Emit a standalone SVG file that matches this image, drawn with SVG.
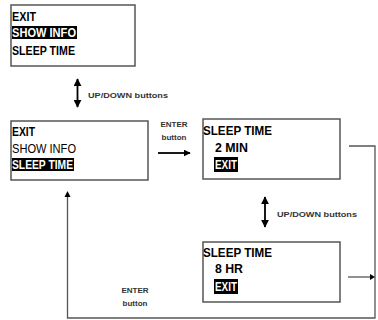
<svg xmlns="http://www.w3.org/2000/svg" width="378" height="320" viewBox="0 0 378 320">
  <style>
    .box { fill: #ffffff; stroke: #555555; stroke-width: 1.5; }
    .hl { fill: #000000; }
    .menu { font-family: "Liberation Sans", Arial, sans-serif; font-size: 12px; fill: #000000; }
    .b { font-weight: bold; }
    .inv { fill: #ffffff; font-weight: bold; }
    .lbl { font-family: "Liberation Sans", Arial, sans-serif; font-size: 8px; font-weight: bold; fill: #333333; }
    .wire { fill: none; stroke: #555555; stroke-width: 1.3; }
    .dbl { fill: none; stroke: #000000; stroke-width: 1.8; }
  </style>
  <defs>
    <marker id="head" viewBox="0 0 10 10" refX="9" refY="5" markerWidth="7" markerHeight="7" markerUnits="userSpaceOnUse" orient="auto-start-reverse">
      <path d="M0,0 L10,5 L0,10 z" fill="#000000"/>
    </marker>
    <marker id="headBig" viewBox="0 0 10 10" refX="9" refY="5" markerWidth="8" markerHeight="8" markerUnits="userSpaceOnUse" orient="auto-start-reverse">
      <path d="M0,0 L10,5 L0,10 z" fill="#000000"/>
    </marker>
  </defs>

  <!-- main menu, SHOW INFO selected -->
  <g id="menu-show-info">
    <rect class="box" x="11" y="5" width="124" height="61"/>
    <text class="menu b" x="12" y="21" textLength="24" lengthAdjust="spacingAndGlyphs">EXIT</text>
    <rect class="hl" x="12" y="26" width="65" height="13"/>
    <text class="menu inv" x="12" y="37" textLength="64" lengthAdjust="spacingAndGlyphs">SHOW INFO</text>
    <text class="menu b" x="12" y="55" textLength="63" lengthAdjust="spacingAndGlyphs">SLEEP TIME</text>
  </g>

  <!-- main menu, SLEEP TIME selected -->
  <g id="menu-sleep-time">
    <rect class="box" x="11" y="121" width="137" height="59"/>
    <text class="menu b" x="12" y="136" textLength="23" lengthAdjust="spacingAndGlyphs">EXIT</text>
    <text class="menu" x="12" y="153" textLength="64" lengthAdjust="spacingAndGlyphs">SHOW INFO</text>
    <rect class="hl" x="12" y="158" width="62" height="13"/>
    <text class="menu inv" x="12" y="169" textLength="61" lengthAdjust="spacingAndGlyphs">SLEEP TIME</text>
  </g>

  <!-- sleep time submenu, 2 MIN -->
  <g id="sleep-2min">
    <rect class="box" x="203" y="119" width="137" height="60"/>
    <text class="menu b" x="203" y="135" font-size="13" textLength="69" lengthAdjust="spacingAndGlyphs">SLEEP TIME</text>
    <text class="menu b" x="215" y="152" textLength="33" lengthAdjust="spacingAndGlyphs">2 MIN</text>
    <rect class="hl" x="214" y="157" width="24" height="15"/>
    <text class="menu inv" x="215" y="169" textLength="22" lengthAdjust="spacingAndGlyphs">EXIT</text>
  </g>

  <!-- sleep time submenu, 8 HR -->
  <g id="sleep-8hr">
    <rect class="box" x="203" y="242" width="137" height="60"/>
    <text class="menu b" x="203" y="257" font-size="13" textLength="69" lengthAdjust="spacingAndGlyphs">SLEEP TIME</text>
    <text class="menu b" x="215" y="273" textLength="28" lengthAdjust="spacingAndGlyphs">8 HR</text>
    <rect class="hl" x="214" y="279" width="24" height="15"/>
    <text class="menu inv" x="215" y="291" textLength="22" lengthAdjust="spacingAndGlyphs">EXIT</text>
  </g>

  <!-- transitions -->
  <g id="connectors">
    <!-- UP/DOWN between main menu states -->
    <line class="dbl" x1="77.5" y1="79" x2="77.5" y2="107" marker-start="url(#headBig)" marker-end="url(#headBig)"/>
    <!-- ENTER into sleep time submenu -->
    <line class="dbl" x1="158" y1="153" x2="190" y2="153" stroke-width="1.5" marker-end="url(#head)"/>
    <!-- UP/DOWN between sleep time values -->
    <line class="dbl" x1="265" y1="197" x2="265" y2="227" marker-start="url(#headBig)" marker-end="url(#headBig)"/>
    <!-- ENTER back to main menu -->
    <path class="wire" d="M349,146 H375 V318 H67.5 V195"/>
    <path d="M64.5,197 L67.5,191 L70.5,197 z" fill="#000000"/>
    <line class="wire" x1="348" y1="277" x2="371" y2="277" stroke="#888888"/>
    <path d="M370,274 L375,277 L370,280 z" fill="#000000"/>
  </g>

  <!-- transition labels -->
  <g id="labels">
    <text class="lbl" x="88" y="98" textLength="80" lengthAdjust="spacingAndGlyphs">UP/DOWN buttons</text>
    <text class="lbl" x="174" y="127" text-anchor="middle">ENTER</text>
    <text class="lbl" x="174" y="140" text-anchor="middle" font-weight="normal">button</text>
    <text class="lbl" x="277" y="217" textLength="80" lengthAdjust="spacingAndGlyphs">UP/DOWN buttons</text>
    <text class="lbl" x="135" y="293" text-anchor="middle">ENTER</text>
    <text class="lbl" x="135" y="306" text-anchor="middle" font-weight="normal">button</text>
  </g>
</svg>
